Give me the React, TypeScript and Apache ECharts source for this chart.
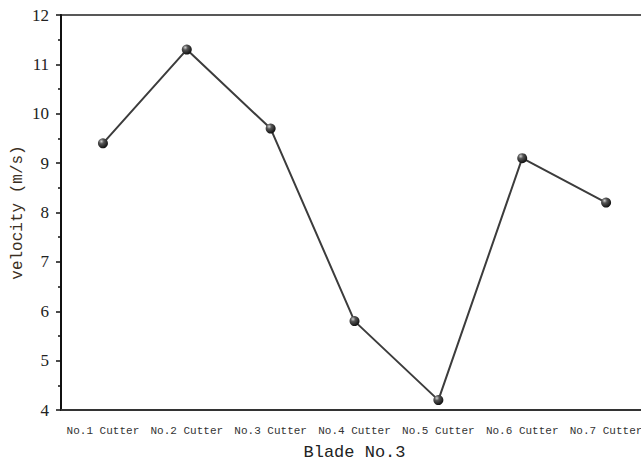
import React, { useEffect, useRef } from "react";
import * as echarts from "echarts";

const categories = ["No.1 Cutter", "No.2 Cutter", "No.3 Cutter", "No.4 Cutter", "No.5 Cutter", "No.6 Cutter", "No.7 Cutter"];
const velocity = [9.4, 11.3, 9.7, 5.8, 4.2, 9.1, 8.2];
const xTitle = "Blade No.3";
const yTitle = "velocity (m/s)";

export default function App() {
  const ref = useRef<HTMLDivElement>(null);
  useEffect(() => {
    if (!ref.current) return;
    const chart = echarts.init(ref.current, undefined, { renderer: "svg" });
    const sphere = new echarts.graphic.RadialGradient(0.35, 0.3, 0.7, [
      { offset: 0, color: "#d0d0d0" },
      { offset: 0.35, color: "#555555" },
      { offset: 1, color: "#111111" },
    ]);
    chart.setOption({
      animation: false,
      backgroundColor: "#ffffff",
      grid: {
        left: 61,
        top: 15,
        width: 587,
        height: 395,
        outerBoundsMode: "none",
        containLabel: false,
        show: true,
        borderColor: "#222",
        borderWidth: 1.5,
        backgroundColor: "transparent",
      },
      xAxis: [
        {
          type: "category",
          data: categories,
          boundaryGap: true,
          axisLine: { lineStyle: { color: "#333", width: 2 } },
          axisTick: { alignWithLabel: true, length: 5, lineStyle: { color: "#333", width: 2 } },
          axisLabel: { fontFamily: "Liberation Mono", fontSize: 11, color: "#333", margin: 15, interval: 0 },
          splitLine: { show: false },
          name: xTitle,
          nameLocation: "middle",
          nameGap: 34,
          nameTextStyle: { fontFamily: "Liberation Mono", fontSize: 17, color: "#222" },
        },
        {
          type: "category",
          data: categories,
          boundaryGap: true,
          position: "bottom",
          axisLine: { show: false },
          axisTick: { length: 3, lineStyle: { color: "#333", width: 2 } },
          axisLabel: { show: false },
          splitLine: { show: false },
        },
      ],
      yAxis: {
        type: "value",
        min: 4,
        max: 12,
        interval: 1,
        axisLine: { show: true, lineStyle: { color: "#111", width: 2 } },
        axisTick: { show: true, length: 5, lineStyle: { color: "#111", width: 1.5 } },
        minorTick: { show: true, splitNumber: 2, length: 3, lineStyle: { color: "#111", width: 1.5 } },
        axisLabel: { fontFamily: "Liberation Serif", fontSize: 17, color: "#222", margin: 12 },
        splitLine: { show: false },
        name: yTitle,
        nameLocation: "middle",
        nameGap: 35,
        nameMoveOverlap: false,
        nameTextStyle: { fontFamily: "Liberation Mono", fontSize: 16, color: "#3a2e22" },
      },
      series: [
        {
          type: "line",
          data: velocity,
          xAxisIndex: 0,
          symbol: "circle",
          symbolSize: 10,
          lineStyle: { color: "#3c3c3c", width: 2 },
          itemStyle: { color: sphere, borderWidth: 0 },
        },
      ],
    });
    return () => chart.dispose();
  }, []);
  return <div ref={ref} style={{ width: 641, height: 465, position: "absolute", left: 0, top: 0 }} />;
}
